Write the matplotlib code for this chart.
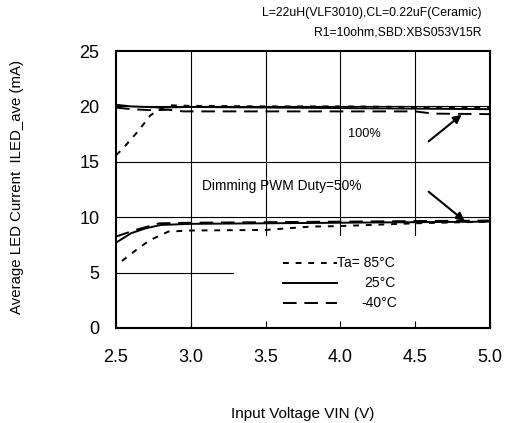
import matplotlib
matplotlib.use("Agg")
import matplotlib.pyplot as plt

plt.rcParams['font.family'] = ['Liberation Sans', 'DejaVu Sans']

# 100% duty curves
x_top_85 = [2.5, 2.54, 2.65, 2.73, 2.8, 2.86, 3.0, 3.5, 4.0, 4.5, 5.0]
y_top_85 = [15.6, 16.1, 17.8, 19.2, 19.8, 20.1, 20.05, 20.0, 20.0, 19.95, 19.9]
x_top_25 = [2.5, 2.6, 2.8, 3.0, 3.5, 4.0, 4.5, 5.0]
y_top_25 = [20.15, 20.0, 19.9, 19.95, 19.9, 19.85, 19.8, 19.75]
x_top_m40 = [2.5, 2.6, 2.75, 2.85, 2.95, 3.0, 3.5, 4.0, 4.5, 4.62, 5.0]
y_top_m40 = [19.9, 19.75, 19.65, 19.7, 19.55, 19.55, 19.55, 19.55, 19.55, 19.35, 19.3]

# 50% duty curves
x_bot_85 = [2.54, 2.65, 2.73, 2.85, 3.0, 3.5, 3.8, 4.0, 4.5, 5.0]
y_bot_85 = [6.05, 7.2, 7.95, 8.7, 8.8, 8.85, 9.15, 9.2, 9.45, 9.6]
x_bot_25 = [2.5, 2.6, 2.7, 2.8, 3.0, 3.5, 4.0, 4.5, 5.0]
y_bot_25 = [7.7, 8.55, 9.0, 9.3, 9.4, 9.45, 9.5, 9.55, 9.6]
x_bot_m40 = [2.5, 2.63, 2.79, 3.0, 3.5, 4.0, 4.5, 5.0]
y_bot_m40 = [8.25, 8.85, 9.45, 9.5, 9.55, 9.6, 9.65, 9.7]

x_ticks = [2.5, 3.0, 3.5, 4.0, 4.5, 5.0]
y_ticks = [0, 5, 10, 15, 20, 25]

style_85 = dict(color='black', lw=1.4, dashes=(3, 3.5))
style_25 = dict(color='black', lw=1.4, linestyle='-')
style_m40 = dict(color='black', lw=1.4, dashes=(7, 4))

fig = plt.figure(figsize=(5.05, 4.23), dpi=100)
ax = fig.add_axes([0.2297, 0.2246, 0.7406, 0.6548])

# partial grid, as in the datasheet
grid = dict(color='black', lw=0.8, zorder=1)
for yv in [10, 15, 20]:
    ax.plot([2.5, 5.0], [yv, yv], **grid)
ax.plot([2.5, 3.28], [5, 5], **grid)
ax.plot([3.0, 3.0], [0, 25], **grid)
for xv in [3.5, 4.0, 4.5]:
    ax.plot([xv, xv], [8.4, 25], **grid)

ax.plot(x_top_85, y_top_85, **style_85)
ax.plot(x_top_25, y_top_25, **style_25)
ax.plot(x_top_m40, y_top_m40, **style_m40)
ax.plot(x_bot_85, y_bot_85, **style_85)
ax.plot(x_bot_25, y_bot_25, **style_25)
ax.plot(x_bot_m40, y_bot_m40, **style_m40)

# arrows
ax.annotate('', xy=(4.81, 19.25), xytext=(4.59, 16.85),
            arrowprops=dict(arrowstyle='-|>', color='black', lw=1.5,
                            mutation_scale=12, shrinkA=0, shrinkB=0))
ax.annotate('', xy=(4.83, 9.66), xytext=(4.59, 12.3),
            arrowprops=dict(arrowstyle='-|>', color='black', lw=1.5,
                            mutation_scale=12, shrinkA=0, shrinkB=0))

ax.text(4.05, 17.5, '100%', fontsize=9.2, va='center')
ax.text(3.075, 12.8, 'Dimming PWM Duty=50%', fontsize=9.9, va='center')

# hand-drawn legend
ax.plot([0.447, 0.59], [0.236, 0.236], transform=ax.transAxes, **style_85)
ax.plot([0.447, 0.59], [0.164, 0.164], transform=ax.transAxes, **style_25)
ax.plot([0.447, 0.59], [0.09, 0.09], transform=ax.transAxes, **style_m40)
ax.text(0.59, 0.236, 'Ta= 85°C', transform=ax.transAxes, fontsize=10, va='center')
ax.text(0.665, 0.164, '25°C', transform=ax.transAxes, fontsize=10, va='center')
ax.text(0.657, 0.09, '-40°C', transform=ax.transAxes, fontsize=10, va='center')

ax.set_xlim(2.5, 5.0)
ax.set_ylim(0, 25)
ax.set_xticks(x_ticks)
ax.set_xticklabels(['%.1f' % v for v in x_ticks])
ax.set_yticks(y_ticks)
ax.tick_params(axis='x', direction='in', length=5, width=0.8, pad=15, labelsize=13)
ax.tick_params(axis='y', direction='in', length=0, pad=12, labelsize=13)
for sp in ax.spines.values():
    sp.set_linewidth(1.5)

ax.set_xlabel('Input Voltage VIN (V)', fontsize=11, labelpad=30)
ax.set_ylabel('Average LED Current  ILED_ave (mA)', fontsize=10.8)
ax.yaxis.set_label_coords(-0.245, 0.51)

fig.text(0.954, 0.969, 'L=22uH(VLF3010),CL=0.22uF(Ceramic)', ha='right', va='center', fontsize=8.8)
fig.text(0.954, 0.922, 'R1=10ohm,SBD:XBS053V15R', ha='right', va='center', fontsize=8.8)

fig.savefig('out.png', dpi=100)
